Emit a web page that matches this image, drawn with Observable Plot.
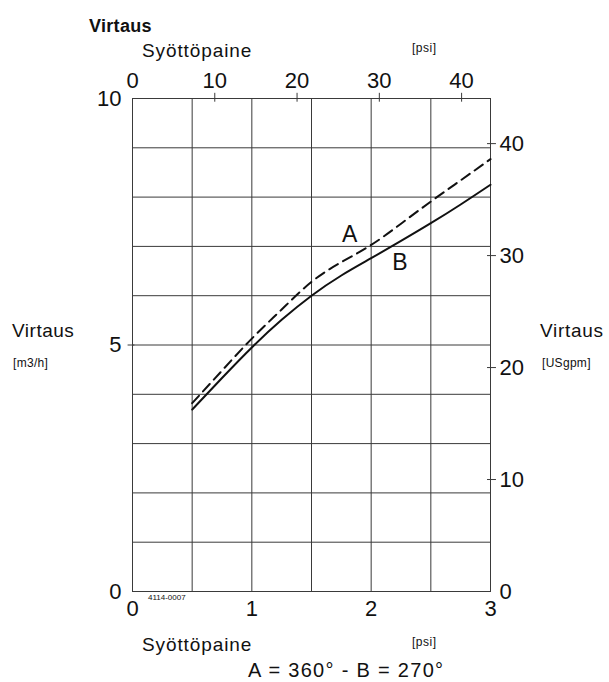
<!DOCTYPE html>
<html>
<head>
<meta charset="utf-8">
<script src="https://cdn.jsdelivr.net/npm/d3@7"></script>
<script src="https://cdn.jsdelivr.net/npm/@observablehq/plot@0.6"></script>
<style>
  html, body { margin: 0; padding: 0; background: #fff; }
  #chart { width: 609px; height: 682px; }
</style>
</head>
<body>
<div id="chart"></div>
<script>
// ---- data ----
const pressureBar = [0.5, 0.75, 1.0, 1.25, 1.5, 1.75, 2.0, 2.25, 2.5, 2.75, 3.0];
const flowA = [3.82, 4.48, 5.13, 5.72, 6.28, 6.68, 7.03, 7.46, 7.91, 8.34, 8.77]; // dashed, 360°
const flowB = [3.69, 4.33, 4.95, 5.51, 6.00, 6.41, 6.76, 7.11, 7.47, 7.85, 8.25]; // solid, 270°

const barTicks = [0, 1, 2, 3];
const psiTicks = [0, 10, 20, 30, 40];
const m3hTicks = [0, 5, 10];
const usgpmTicks = [0, 10, 20, 30, 40];
const xGrid = [0.5, 1, 1.5, 2, 2.5];
const yGrid = [1, 2, 3, 4, 5, 6, 7, 8, 9];
const curveLabels = [{label: "A", x: 1.82, y: 7.23}, {label: "B", x: 2.24, y: 6.68}];

const PSI_PER_BAR = 14.5038;
const USGPM_PER_M3H = 4.4029;

const rowsA = pressureBar.map((p, i) => ({p, q: flowA[i]}));
const rowsB = pressureBar.map((p, i) => ({p, q: flowB[i]}));

const FONT = "Liberation Sans, Arial, Helvetica, sans-serif";
const gridColor = "#3a3a3a";

const svg = Plot.plot({
  width: 609,
  height: 682,
  marginLeft: 132,
  marginRight: 119,
  marginTop: 98,
  marginBottom: 91,
  style: {fontFamily: FONT, color: "#111", background: "#fff", overflow: "visible"},
  x: {domain: [0, 3], axis: null},
  y: {domain: [0, 10], axis: null},
  marks: [
    Plot.ruleX(xGrid, {stroke: gridColor, strokeWidth: 1}),
    Plot.ruleY(yGrid, {stroke: gridColor, strokeWidth: 1}),
    Plot.frame({stroke: gridColor, strokeWidth: 1}),
    // top psi ticks (crossing the frame)
    Plot.ruleX(psiTicks.filter(d => d > 0).map(d => d / PSI_PER_BAR), {y1: 9.925, y2: 10.105, stroke: gridColor}),
    // right USgpm ticks
    Plot.ruleY(usgpmTicks.filter(d => d > 0).map(d => d / USGPM_PER_M3H), {x1: 2.975, x2: 3.05, stroke: gridColor}),
    // left m3/h tick
    Plot.ruleY([5], {x1: -0.037, x2: 0.02, stroke: gridColor}),
    // axes labels
    Plot.axisX(barTicks, {anchor: "bottom", tickSize: 0, tickPadding: 9, fontSize: 22, label: null, tickFormat: d => d}),
    Plot.axisX(psiTicks.map(d => d / PSI_PER_BAR), {anchor: "top", tickSize: 0, tickPadding: 11, fontSize: 22, label: null, tickFormat: d => Math.round(d * PSI_PER_BAR)}),
    Plot.axisY(m3hTicks, {anchor: "left", tickSize: 0, tickPadding: 11, fontSize: 22, label: null, tickFormat: d => d}),
    Plot.axisY(usgpmTicks.map(d => d / USGPM_PER_M3H), {anchor: "right", tickSize: 0, tickPadding: 9, fontSize: 22, label: null, tickFormat: d => Math.round(d * USGPM_PER_M3H)}),
    // curves
    Plot.line(rowsA, {x: "p", y: "q", curve: "natural", stroke: "#111", strokeWidth: 2, strokeDasharray: "10,6"}),
    Plot.line(rowsB, {x: "p", y: "q", curve: "natural", stroke: "#111", strokeWidth: 2}),
    Plot.text(curveLabels, {x: "x", y: "y", text: "label", fontSize: 23, fill: "#111"})
  ]
});

const root = d3.select(svg);
function addText(str, x, y, size, opts = {}) {
  const t = root.append("text")
    .attr("x", x).attr("y", y)
    .attr("font-family", FONT)
    .attr("font-size", size)
    .attr("fill", "#111")
    .attr("text-anchor", opts.anchor || "start")
    .text(str);
  if (opts.weight) t.attr("font-weight", opts.weight);
  if (opts.ls) t.attr("letter-spacing", opts.ls);
  return t;
}
addText("Virtaus", 89, 32, 18, {weight: "bold", ls: 0.3});
addText("Syöttöpaine", 142, 57, 19, {ls: 0.9});
addText("[psi]", 412, 52, 12, {ls: 0.5});
addText("Virtaus", 12, 337, 19, {ls: 0.5});
addText("[m3/h]", 13, 367, 12, {ls: 0.3});
addText("Virtaus", 540, 337, 19, {ls: 0.7});
addText("[USgpm]", 542, 367, 12, {ls: 0.3});
addText("4114-0007", 148, 600, 8);
addText("Syöttöpaine", 142, 651, 19, {ls: 0.9});
addText("[psi]", 412, 646, 12, {ls: 0.5});
addText("A = 360° - B = 270°", 248, 677, 20, {ls: 1.3});

document.getElementById("chart").appendChild(svg);
</script>
</body>
</html>
